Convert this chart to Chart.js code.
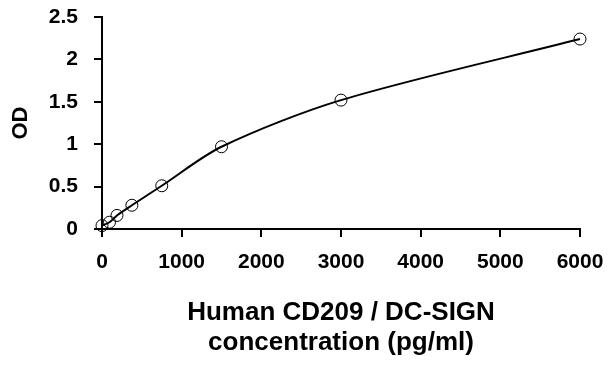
<!DOCTYPE html>
<html>
<head>
<meta charset="utf-8">
<script src="https://cdn.jsdelivr.net/npm/chart.js@4/dist/chart.umd.min.js"></script>
<style>
html,body{margin:0;padding:0;background:#fff;}
#wrap{width:610px;height:367px;position:relative;}
</style>
</head>
<body>
<div id="wrap"><canvas id="c" width="610" height="367"></canvas></div>
<script>
const concentrations = [0, 94, 188, 375, 750, 1500, 3000, 6000];
const odValues = [0.04, 0.08, 0.16, 0.28, 0.51, 0.97, 1.52, 2.24];
const xTicks = [0, 1000, 2000, 3000, 4000, 5000, 6000];
const yTicks = [0, 0.5, 1, 1.5, 2, 2.5];

const pts = concentrations.map((x, i) => ({x: x, y: odValues[i]}));
const FONT = "'Liberation Sans', Arial, sans-serif";

new Chart(document.getElementById('c'), {
  type: 'scatter',
  data: {
    datasets: [{
      data: pts,
      showLine: true,
      tension: 0.3,
      clip: false,
      borderColor: '#000',
      borderWidth: 2,
      pointRadius: 6,
      pointBorderWidth: 1,
      pointBorderColor: '#000',
      pointBackgroundColor: 'rgba(0,0,0,0)',
      pointStyle: 'circle'
    }]
  },
  options: {
    responsive: false,
    animation: false,
    layout: {padding: {left: 0, right: 30, top: 17, bottom: 0}},
    plugins: {legend: {display: false}, tooltip: {enabled: false}},
    scales: {
      x: {
        type: 'linear',
        min: 0, max: 6000,
        afterBuildTicks: s => { s.ticks = xTicks.map(v => ({value: v})); },
        afterFit: s => { s.height = 138; s.paddingLeft = 0; s.paddingRight = 0; },
        grid: {drawOnChartArea: false, drawTicks: true, tickLength: 8, color: '#000', lineWidth: 2},
        border: {display: true, color: '#000', width: 2},
        ticks: {color: '#000', font: {family: FONT, size: 21, weight: 'bold'}, padding: 13, maxRotation: 0,
          callback: v => String(v)},
        title: {display: true, text: ['Human CD209 / DC-SIGN', 'concentration (pg/ml)'], color: '#000',
          font: {family: FONT, size: 26, weight: 'bold', lineHeight: '30px'}, padding: {top: 4, bottom: 9}}
      },
      y: {
        type: 'linear',
        min: 0, max: 2.5,
        afterBuildTicks: s => { s.ticks = yTicks.map(v => ({value: v})); },
        afterFit: s => { s.width = 102; s.paddingTop = 0; s.paddingBottom = 0; },
        grid: {drawOnChartArea: false, drawTicks: true, tickLength: 8, color: '#000', lineWidth: 2},
        border: {display: true, color: '#000', width: 2},
        ticks: {color: '#000', font: {family: FONT, size: 21, weight: 'bold'}, padding: 16,
          callback: v => String(v)},
        title: {display: true, text: 'OD', color: '#000', font: {family: FONT, size: 22, weight: 'bold'}, padding: {top: 8, bottom: 0}}
      }
    }
  }
});
</script>
</body>
</html>
